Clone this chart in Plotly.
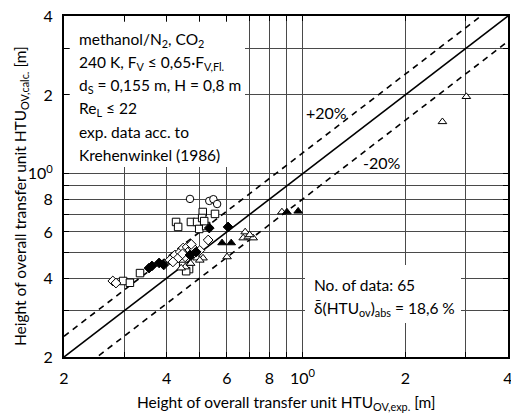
import plotly.graph_objects as go
import math

# ---------------- data ----------------
tick_vals = [0.2, 0.3, 0.4, 0.5, 0.6, 0.7, 0.8, 0.9, 1, 2, 3, 4]
tick_text = ['2', '', '4', '', '6', '', '8', '', '10<sup>0</sup>', '2', '', '4']

circ_open_x = [0.468, 0.533, 0.548, 0.562]
circ_open_y = [0.802, 0.788, 0.800, 0.767]

sq_open_x = [0.426, 0.432, 0.471, 0.491, 0.510, 0.554, 0.508, 0.498, 0.522, 0.334, 0.298, 0.447, 0.465, 0.312, 0.515, 0.456]
sq_open_y = [0.655, 0.627, 0.655, 0.655, 0.715, 0.703, 0.678, 0.616, 0.632, 0.418, 0.390, 0.445, 0.433, 0.384, 0.660, 0.425]

dia_fill_x = [0.533, 0.605, 0.468, 0.362, 0.380, 0.392, 0.355, 0.488]
dia_fill_y = [0.621, 0.627, 0.490, 0.445, 0.457, 0.449, 0.437, 0.503]

dia_open_x = [0.278, 0.284, 0.409, 0.423, 0.438, 0.447, 0.459, 0.468, 0.478, 0.484, 0.453, 0.432, 0.417, 0.529, 0.445, 0.472, 0.500]
dia_open_y = [0.390, 0.383, 0.469, 0.490, 0.503, 0.521, 0.526, 0.512, 0.521, 0.499, 0.482, 0.477, 0.461, 0.559, 0.495, 0.538, 0.510]

tri_fill_x = [0.581, 0.618, 0.900, 0.971]
tri_fill_y = [0.545, 0.545, 0.715, 0.720]

tri_open_x = [0.679, 0.670, 0.693, 0.717, 0.700, 0.870, 0.601, 2.57, 3.02, 0.491, 0.511, 0.453, 0.441, 0.470, 0.500]
tri_open_y = [0.600, 0.569, 0.574, 0.569, 0.585, 0.715, 0.482, 1.58, 1.97, 0.477, 0.477, 0.441, 0.437, 0.455, 0.468]

diag_x = [0.2, 4.0]
band_factors = [1.2, 0.8]

FONT = "Lato"
W, H = 511, 416
L, R, T, B = 64, 3, 16, 59
PW, PH = W - L - R, H - T - B


def xp(px):
    return (px - L) / PW


def yp(py):
    return (H - B - py) / PH


fig = go.Figure()

fig.add_trace(go.Scatter(x=diag_x, y=diag_x, mode='lines',
                         line=dict(color='black', width=1.6), showlegend=False, hoverinfo='skip'))
for f in band_factors:
    fig.add_trace(go.Scatter(x=diag_x, y=[v * f for v in diag_x], mode='lines',
                             line=dict(color='black', width=1.6, dash='6px,5px'),
                             showlegend=False, hoverinfo='skip'))


def add_pts(xs, ys, symbol, filled):
    fig.add_trace(go.Scatter(
        x=xs, y=ys, mode='markers', showlegend=False,
        marker=dict(symbol=symbol, size=7.5,
                    color='black' if filled else 'white',
                    line=dict(color='black', width=1))))


add_pts(circ_open_x, circ_open_y, 'circle', False)
add_pts(sq_open_x, sq_open_y, 'square', False)
add_pts(dia_open_x, dia_open_y, 'diamond', False)
add_pts(tri_open_x, tri_open_y, 'triangle-up', False)
add_pts(dia_fill_x, dia_fill_y, 'diamond', True)
add_pts(tri_fill_x, tri_fill_y, 'triangle-up', True)

axis_common = dict(
    type='log', range=[math.log10(0.2), math.log10(4)],
    tickmode='array', tickvals=tick_vals, ticktext=tick_text,
    showgrid=True, gridcolor='#4a4a4a', gridwidth=1,
    showline=True, linecolor='black', linewidth=2, mirror='ticks',
    ticks='inside', ticklen=5, tickcolor='black', tickwidth=1,
    tickfont=dict(family=FONT, size=16, color='black'),
    zeroline=False, automargin=False, ticklabeloverflow='allow',
)

fig.update_layout(
    width=W, height=H,
    margin=dict(l=L, r=R, t=T, b=B, pad=0, autoexpand=False),
    paper_bgcolor='white', plot_bgcolor='white',
    xaxis=dict(axis_common, ticklabelstandoff=6),
    yaxis=dict(axis_common, ticklabelstandoff=6),
    font=dict(family=FONT, color='black'),
)

# white boxes hiding the grid behind the text blocks
fig.add_shape(type='rect', xref='paper', yref='paper',
              x0=xp(70), x1=xp(245), y0=yp(167), y1=yp(22),
              fillcolor='white', opacity=1, line=dict(width=0, color='white'), layer='above')
fig.add_shape(type='rect', xref='paper', yref='paper',
              x0=xp(305), x1=xp(461), y0=yp(323), y1=yp(265),
              fillcolor='white', opacity=1, line=dict(width=0, color='white'), layer='above')


def label(txt, px, py, size=15.5, xanchor='left', angle=0):
    fig.add_annotation(text=txt, xref='paper', yref='paper', x=xp(px), y=yp(py),
                       xanchor=xanchor, yanchor='middle', showarrow=False,
                       textangle=angle,
                       font=dict(family=FONT, size=size, color='black'))


info_lines = [
    "methanol/N<sub>2</sub>, CO<sub>2</sub>",
    "240 K, F<sub>V</sub> ≤ 0,65·F<sub>V,Fl.</sub>",
    "d<sub>S</sub> = 0,155 m, H = 0,8 m",
    "Re<sub>L</sub> ≤ 22",
    "exp. data acc. to",
    "Krehenwinkel (1986)",
]
info_y = [40, 63, 86, 109, 132, 155]
for txt, py in zip(info_lines, info_y):
    label(txt, 77, py)

stats_lines = ["No. of data: 65", "δ\u0304(HTU<sub>ov</sub>)<sub>abs</sub> = 18,6 %"]
stats_y = [285, 309]
for txt, py in zip(stats_lines, stats_y):
    label(txt, 312, py)

label("+20%", 326, 113, size=16, xanchor='center')
label("-20%", 382, 163, size=16, xanchor='center')

label("Height of overall transfer unit HTU<sub>OV,exp.</sub> [m]", 286, 403,
      size=15.5, xanchor='center')
label("Height of overall transfer unit HTU<sub>OV,calc.</sub> [m]", 21, 196,
      size=15.5, xanchor='center', angle=-90)

fig.write_html("out.html", config={'displayModeBar': False},
               post_script="document.body.style.margin='0';document.body.style.overflow='hidden';")
